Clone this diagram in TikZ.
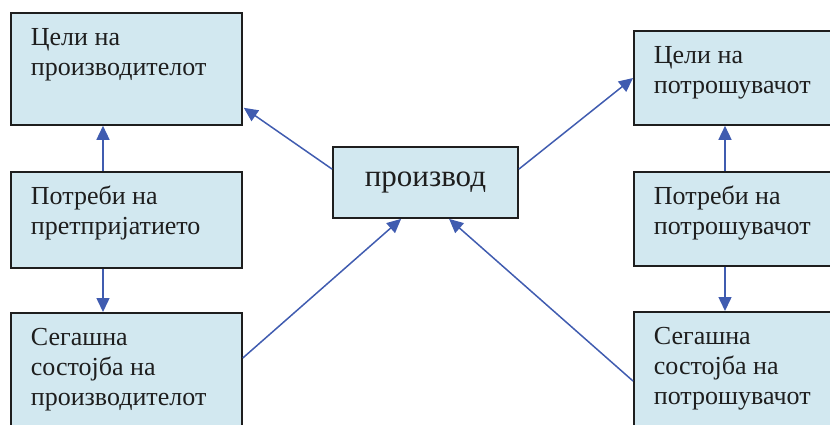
\documentclass[tikz,border=0pt]{standalone}
\usepackage{fontspec}
\setmainfont{Liberation Serif}
\usetikzlibrary{arrows.meta,calc}
\definecolor{boxfill}{RGB}{210,232,240}
\definecolor{boxline}{RGB}{30,30,30}
\definecolor{arrowblue}{RGB}{64,92,176}
\definecolor{txt}{RGB}{30,30,30}
\newcommand\bxt[3]{\parbox[c][#2pt][t]{#1pt}{\raggedright\vspace*{12pt}\strut #3}}
\begin{document}
\begin{tikzpicture}[x=1pt,y=-1pt,
  box/.style={draw=boxline, fill=boxfill, line width=1.8pt, inner xsep=20pt, inner ysep=0pt,
    anchor=north west, text=txt, font=\fontsize{26}{30}\selectfont},
  prodbox/.style={draw=boxline, fill=boxfill, line width=1.8pt, minimum width=185pt,
    minimum height=71pt, inner sep=0pt, text=txt, font=\fontsize{31}{36}\selectfont},
  arr/.style={draw=arrowblue, line width=1.5pt, -{Triangle[length=14pt,width=13pt]}}]
\useasboundingbox (0,0) rectangle (830,424);
\clip (0,0) rectangle (830,424);
% left column
\node[box] (tl) at (10,12) {\bxt{191}{112}{Цели на\\производителот}};
\node[box] (ml) at (10,171) {\bxt{191}{96}{Потреби на\\претпријатието}};
\node[box] (bl) at (10,312) {\bxt{191}{130}{Сегашна\\состојба на\\производителот}};
% right column
\node[box] (tr) at (633,30) {\bxt{177}{94}{Цели на\\потрошувачот}};
\node[box] (mr) at (633,171) {\bxt{177}{94}{Потреби на\\потрошувачот}};
\node[box] (br) at (633,311) {\bxt{177}{130}{Сегашна\\состојба на\\потрошувачот}};
% center
\node[prodbox] (prod) at (425.5,182.5) {производ};
% connectors
\draw[arr] ($(prod.north west)+(0,23)$) -- ($(tl.south east)+(1,-18)$);
\draw[arr] ($(prod.north east)+(0,23)$) -- ($(tr.north west)+(0,48)$);
\draw[arr] ($(ml.north west)+(93,0)$) -- ($(tl.south west)+(93,0)$);
\draw[arr] ($(ml.south west)+(93,0)$) -- ($(bl.north west)+(93,0)$);
\draw[arr] ($(mr.north west)+(92,0)$) -- ($(tr.south west)+(92,0)$);
\draw[arr] ($(mr.south west)+(92,0)$) -- ($(br.north west)+(92,0)$);
\draw[arr] ($(bl.north east)+(0,46)$) -- ($(prod.south west)+(69,0)$);
\draw[arr] ($(br.north west)+(0,70)$) -- ($(prod.south west)+(117,0)$);
\end{tikzpicture}
\end{document}
